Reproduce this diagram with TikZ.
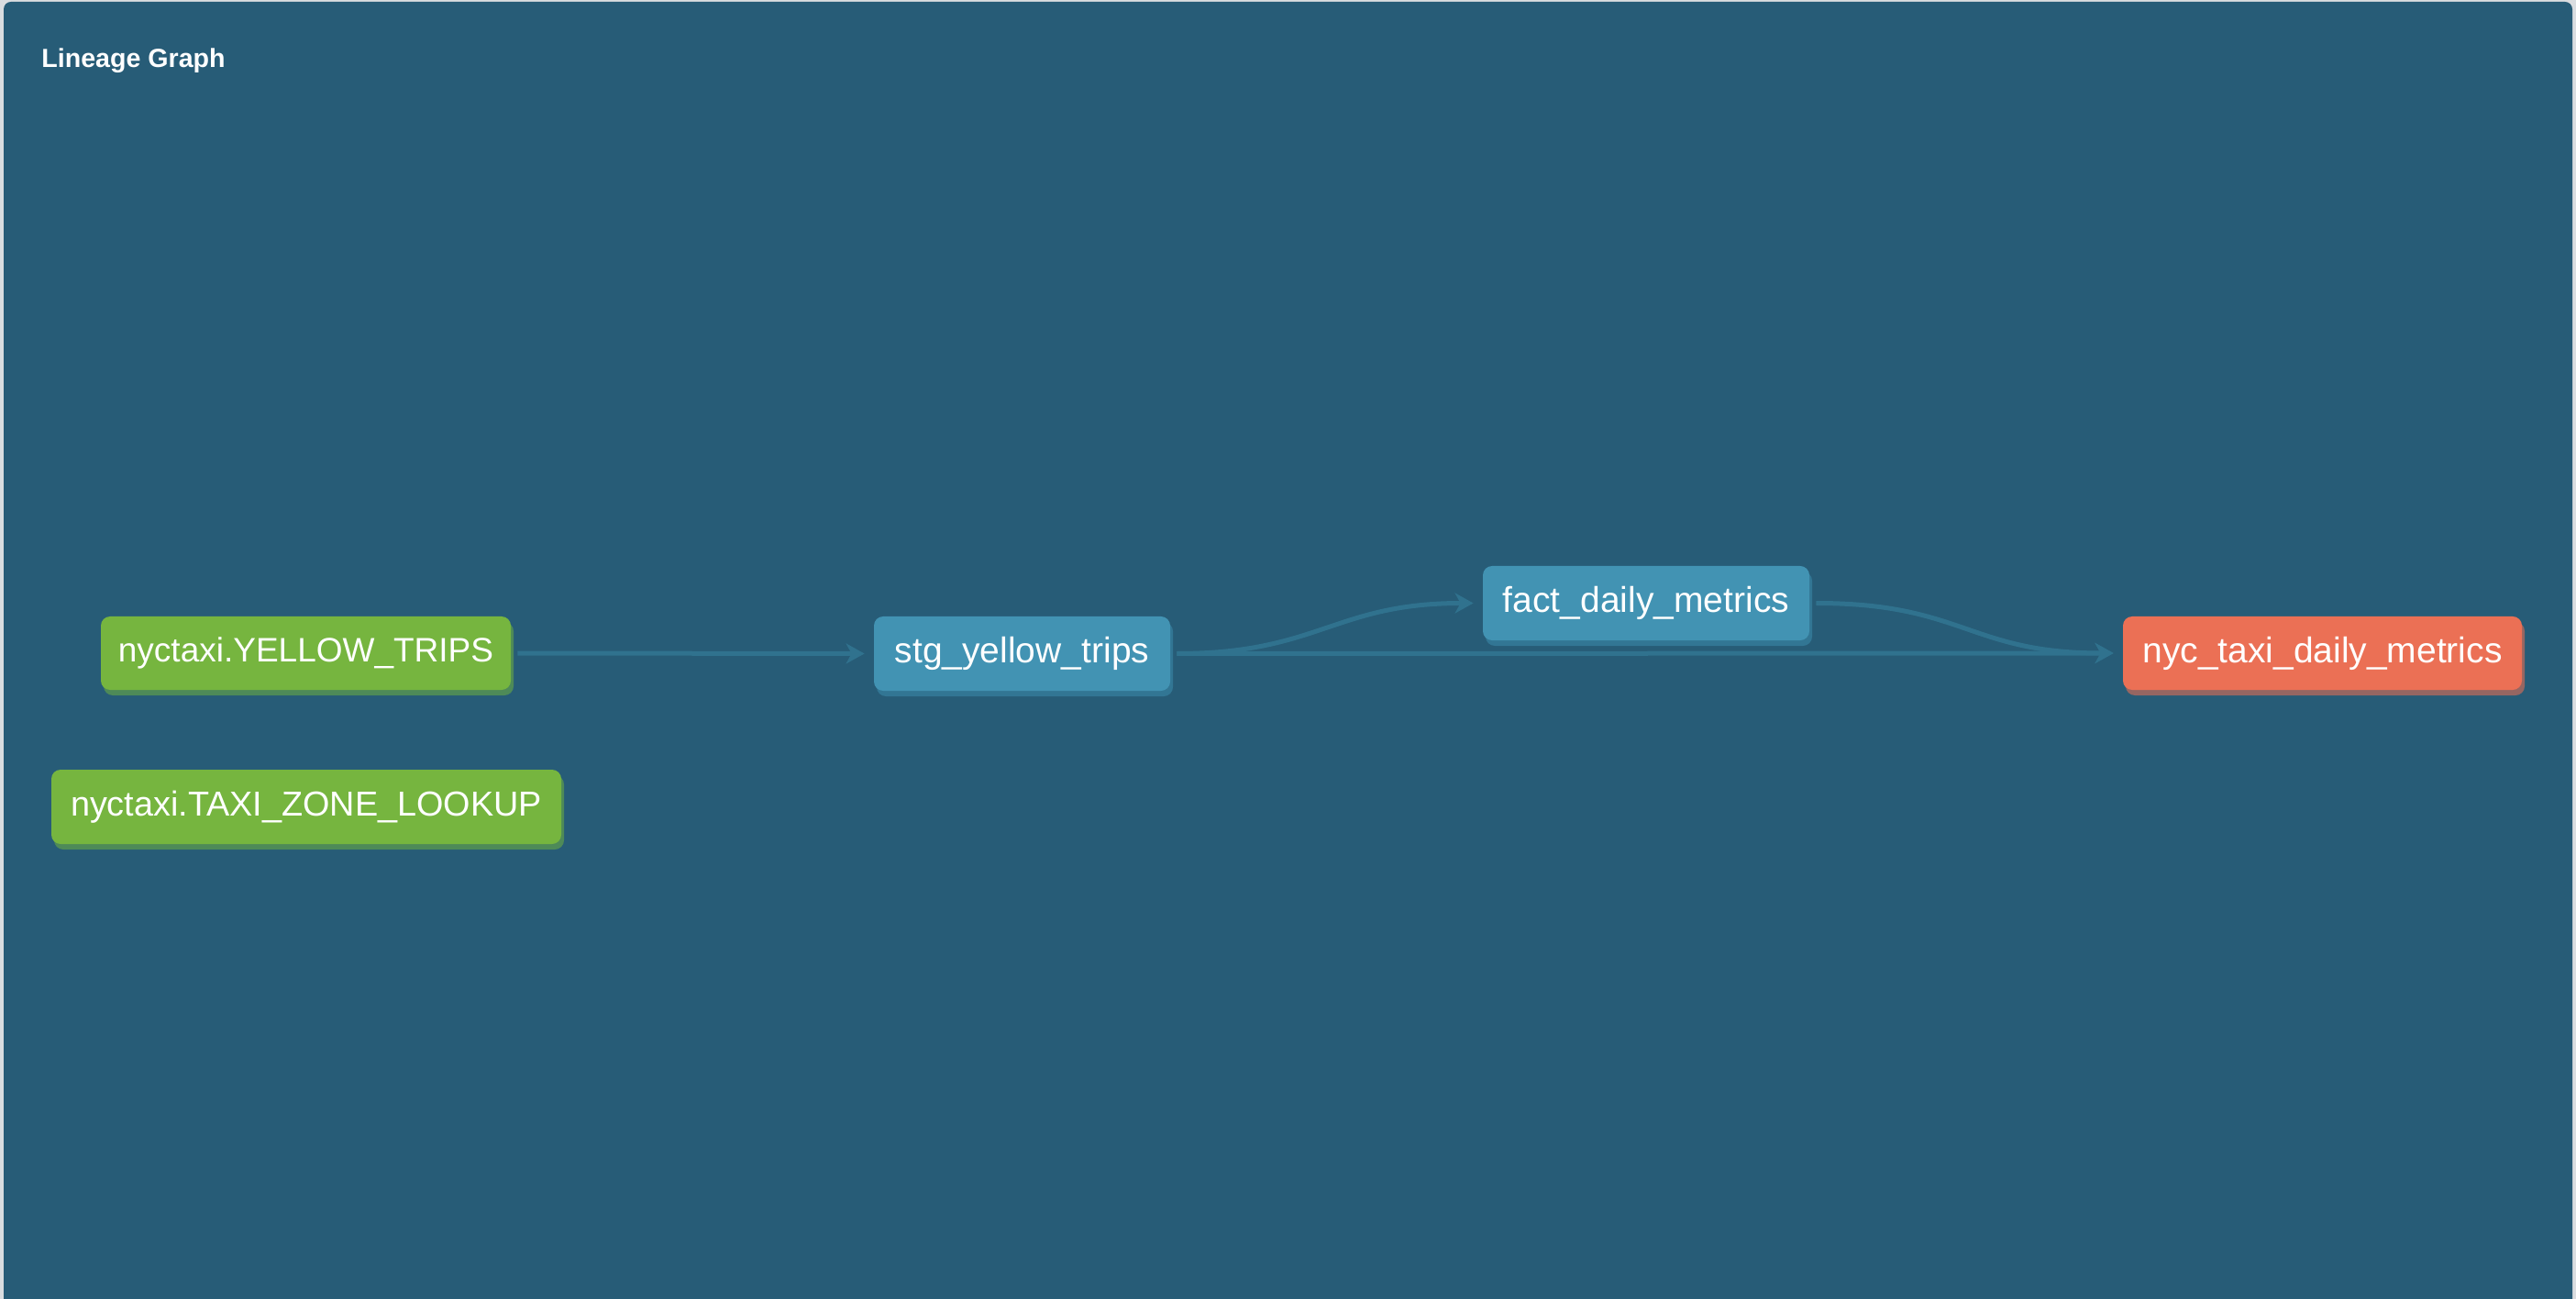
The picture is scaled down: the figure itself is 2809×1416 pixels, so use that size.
\documentclass[tikz,border=0pt]{standalone}
\usepackage{fontspec}
\setmainfont{Liberation Sans}
\usetikzlibrary{shadows,arrows.meta}
\definecolor{pagegray}{RGB}{218,221,224}
\definecolor{panelbg}{RGB}{39,92,119}
\definecolor{edgecol}{RGB}{48,114,142}
\definecolor{srcgreen}{RGB}{118,181,63}
\definecolor{srcshadow}{RGB}{78,138,88}
\definecolor{modblue}{RGB}{66,147,179}
\definecolor{modshadow}{RGB}{50,118,148}
\definecolor{expred}{RGB}{235,112,85}
\definecolor{expshadow}{RGB}{150,102,98}
\tikzset{
  lgbox/.style={rectangle, rounded corners=5pt, inner sep=0pt, minimum height=40.5pt,
    text=white, font=\fontsize{19.5pt}{22pt}\selectfont},
  srcnode/.style={lgbox, fill=srcgreen,
    drop shadow={shadow xshift=1.5pt, shadow yshift=-3pt, fill=srcshadow, opacity=1}},
  modnode/.style={lgbox, fill=modblue,
    drop shadow={shadow xshift=1.5pt, shadow yshift=-3pt, fill=modshadow, opacity=1}},
  expnode/.style={lgbox, fill=expred,
    drop shadow={shadow xshift=1.5pt, shadow yshift=-3pt, fill=expshadow, opacity=1}},
  lgedge/.style={draw=edgecol, line width=2.5pt,
    -{Stealth[length=10pt, width=11pt, inset=3pt]}, shorten <=3.5pt, shorten >=5pt},
}
\begin{document}
\begin{tikzpicture}[x=0.5pt, y=-0.5pt]
  \useasboundingbox (0,0) rectangle (2809,1416);
  \fill[pagegray] (0,0) rectangle (2809,1416);
  \fill[panelbg, rounded corners=4pt] (4,2) rectangle (2805,1430);
  \node[anchor=base west, inner sep=0pt, text=white, font=\bfseries\fontsize{14.3pt}{16pt}\selectfont]
    (title) at (45,74) {Lineage Graph};

  \node[srcnode, minimum width=223.5pt, minimum height=40pt, font=\fontsize{18.5pt}{21pt}\selectfont] (yt) at (333.5,712) {nyctaxi.YELLOW\_TRIPS};
  \node[srcnode, minimum width=278pt, font=\fontsize{18.9pt}{21pt}\selectfont] (tz) at (334,879.5) {nyctaxi.TAXI\_ZONE\_LOOKUP};
  \node[modnode, minimum width=161.5pt] (stg) at (1114.5,712.5) {stg\_yellow\_trips};
  \node[modnode, minimum width=178pt] (fact) at (1795,657.5) {fact\_daily\_metrics};
  \node[expnode, minimum width=217.5pt, minimum height=40pt] (nyc) at (2532.5,712) {nyc\_taxi\_daily\_metrics};

  \path[lgedge] (yt.east) -- (stg.west);
  \path[lgedge] (stg.east) .. controls +(81pt,0pt) and +(-81pt,0pt) .. (fact.west);
  \path[lgedge] (stg.east) -- (nyc.west);
  \path[lgedge] (fact.east) .. controls +(84pt,0pt) and +(-84pt,0pt) .. (nyc.west);
\end{tikzpicture}
\end{document}
